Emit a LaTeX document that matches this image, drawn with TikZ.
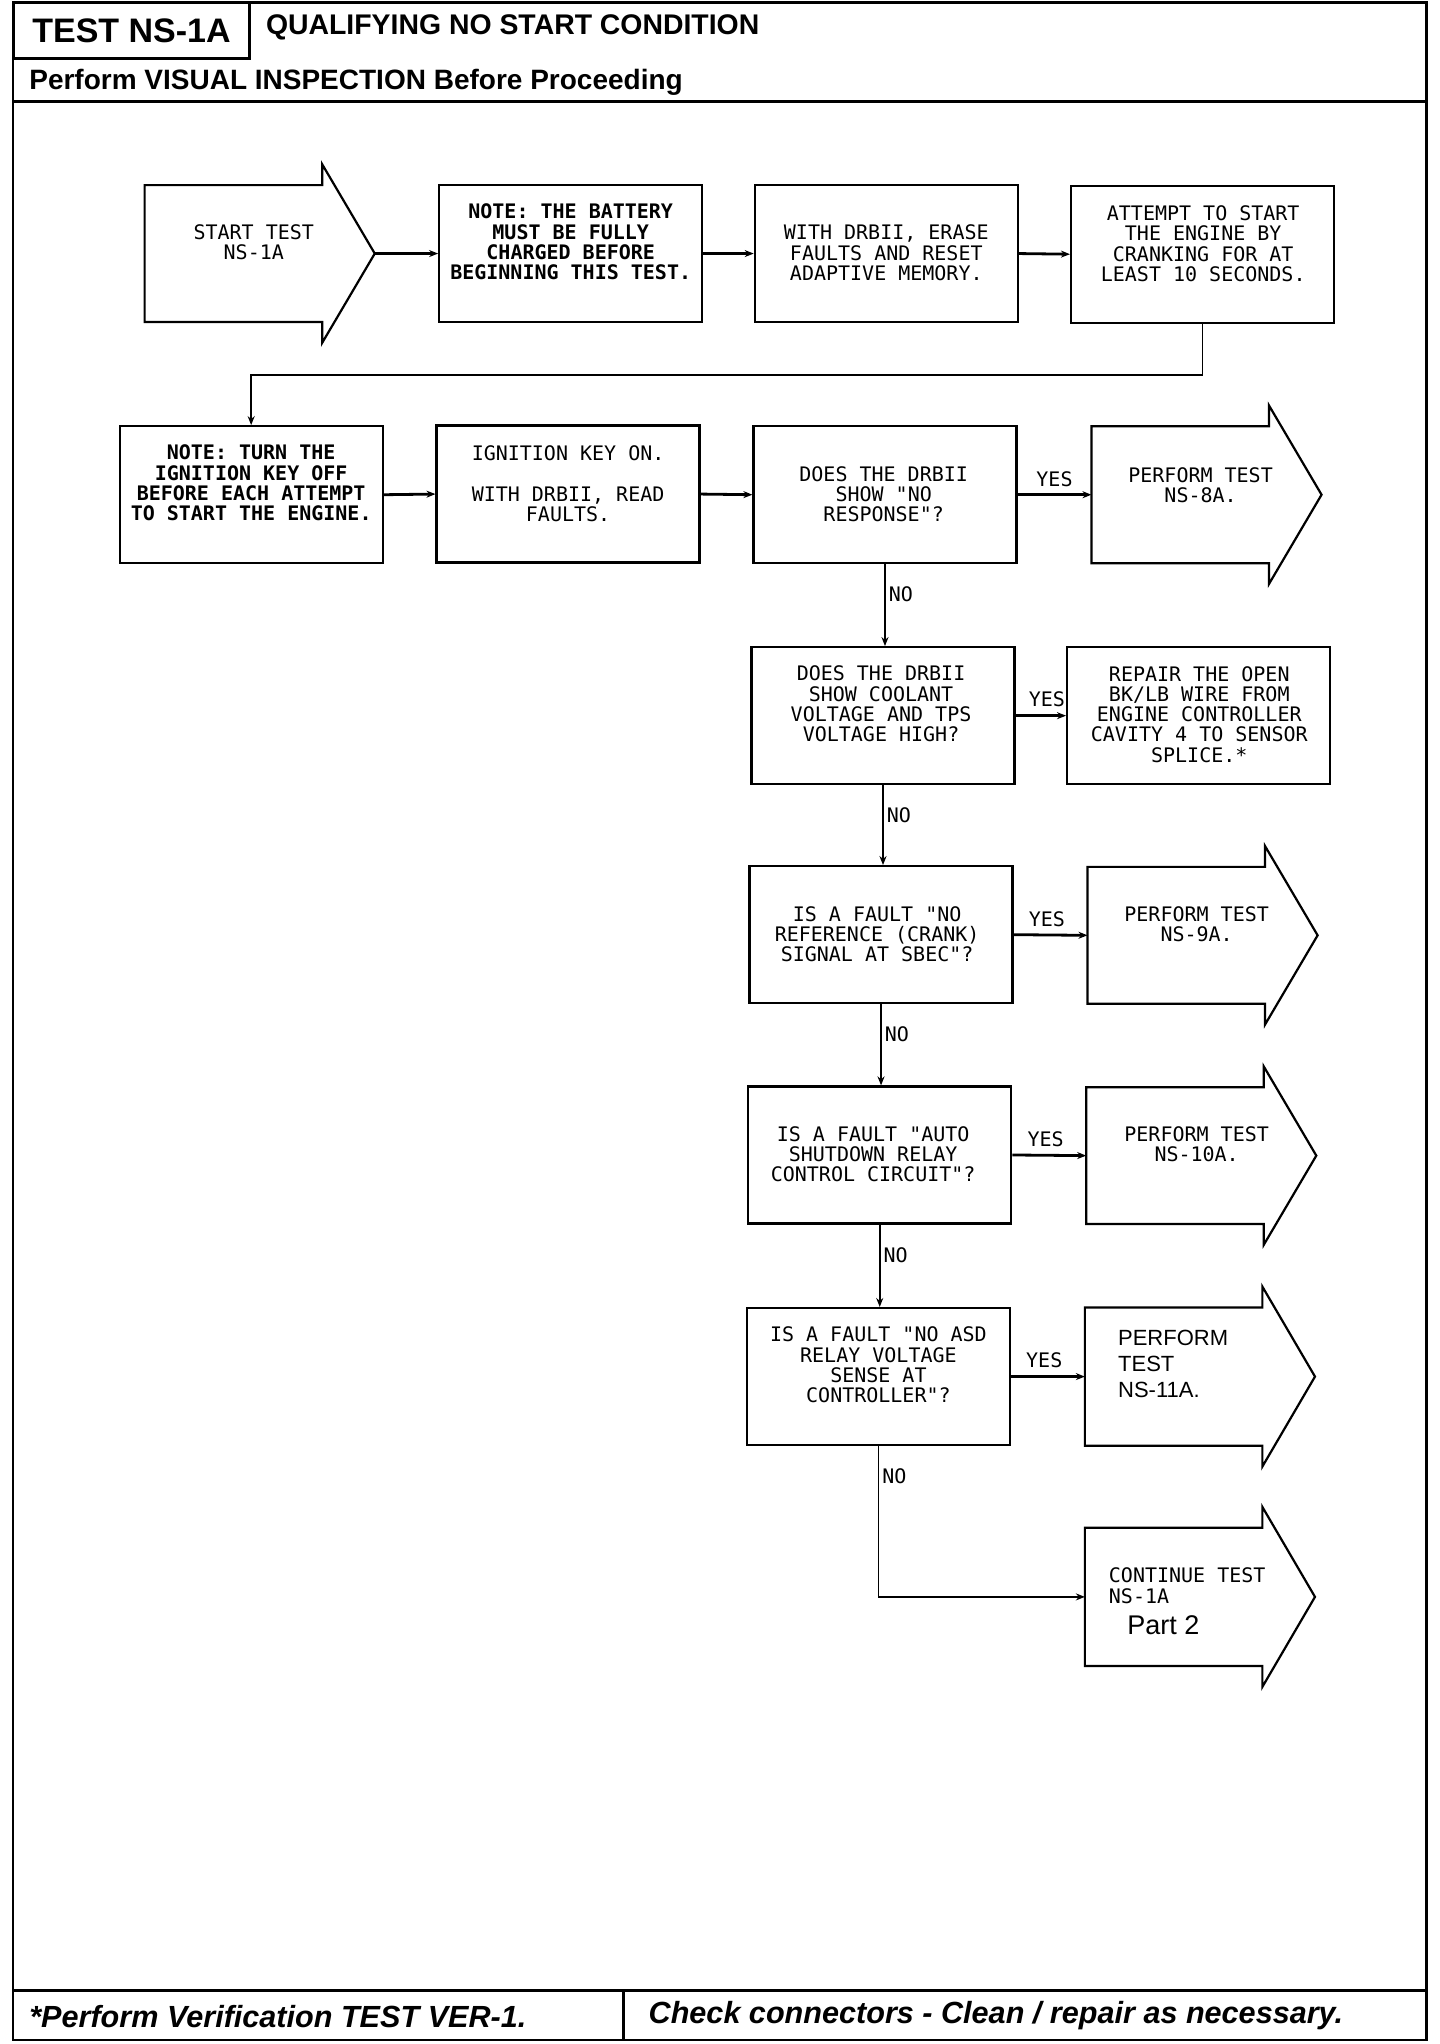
\documentclass[tikz,border=0pt]{standalone}
\usepackage{fontspec}
\setmainfont{Liberation Sans}
\newfontfamily\plotfont{DejaVu Sans Mono}
\usetikzlibrary{arrows.meta}
\newcommand{\ArrowBox}[6]{%
  \draw[shapeline] (#2,#3) -- (#4,#3) -- (#4,#3-16) -- (#6,{(#3+#5)/2}) -- (#4,#5+16) -- (#4,#5) -- (#2,#5) -- cycle;
  \coordinate (#1) at (#2,{(#3+#5)/2});
  \coordinate (#1tip) at (#6,{(#3+#5)/2});}
\begin{document}
\begin{tikzpicture}[x=0.6575pt, y=-0.6518pt,
  box/.style={draw, line width=1.1pt, minimum width=131.5pt, minimum height=68.5pt, inner sep=0pt},
  shapeline/.style={line width=1.1pt, line join=miter},
  frameline/.style={line width=1.3pt},
  conn/.style={line width=0.9pt, -{Stealth[length=4.5pt,width=3.5pt]}},
  hconn/.style={line width=1.4pt, -{Stealth[length=4.5pt,width=3.5pt]}},
  mono/.style={font=\plotfont\fontsize{10}{10.1}\selectfont, align=center, inner sep=0pt},
  monob/.style={font=\plotfont\bfseries\fontsize{10}{10.1}\selectfont, align=center, inner sep=0pt},
  lab/.style={font=\plotfont\fontsize{10}{10.1}\selectfont, inner sep=1.5pt},
  head/.style={font=\bfseries\fontsize{14.2}{16}\selectfont, inner sep=0pt, anchor=west},
  foot/.style={font=\bfseries\itshape\fontsize{15.3}{17}\selectfont, inner sep=0pt, anchor=west},
  sans/.style={font=\fontsize{11}{13}\selectfont, align=left, inner sep=0pt, anchor=west}
]
\useasboundingbox (0,0) rectangle (1095,1568);
% frame
\draw[frameline] (10,2) rectangle (1085,1565);
\draw[frameline] (10,78) -- (1085,78);
\draw[frameline] (10,1527) -- (1085,1527);
\draw[frameline] (474,1527) -- (474,1565);
\node[draw, line width=1.3pt, minimum width=118.3pt, minimum height=28pt, inner sep=0pt,
      font=\bfseries\fontsize{17}{19}\selectfont] (tbox) at (100,23.5) {TEST NS-1A};
\node[head] (title) at (202,21) {QUALIFYING NO START CONDITION};
\node[head, font=\bfseries\fontsize{14}{16}\selectfont] (vis) at (22,63) {Perform VISUAL INSPECTION Before Proceeding};
\node[foot] (f1) at (22,1547) {*Perform Verification TEST VER-1.};
\node[foot] (f2) at (493,1546) {Check connectors - Clean / repair as necessary.};

% row 1
\ArrowBox{a1}{110}{142}{245}{247}{285}
\node[mono] (t1) at (193,186) {START TEST\\NS-1A};
\node[box] (b2) at (434,194.5) {};
\node[monob] (t2) at (434,185.5) {NOTE: THE BATTERY\\MUST BE FULLY\\CHARGED BEFORE\\BEGINNING THIS TEST.};
\node[box] (b3) at (674,194.5) {};
\node[mono] (t3) at (674,194) {WITH DRBII, ERASE\\FAULTS AND RESET\\ADAPTIVE MEMORY.};
\node[box] (b4) at (914.5,195) {};
\node[mono] (t4) at (915,187) {ATTEMPT TO START\\THE ENGINE BY\\CRANKING FOR AT\\LEAST 10 SECONDS.};

% row 2
\node[box] (b5) at (191,379.5) {};
\node[monob] (t5) at (191,370.5) {NOTE: TURN THE\\IGNITION KEY OFF\\BEFORE EACH ATTEMPT\\TO START THE ENGINE.};
\node[box] (b6) at (432,379) {};
\node[mono] (t6) at (432,371) {IGNITION KEY ON.\\[10.1pt]WITH DRBII, READ\\FAULTS.};
\node[box] (b7) at (673,379.5) {};
\node[mono] (t7) at (672,379) {DOES THE DRBII\\SHOW "NO\\RESPONSE"?};
\ArrowBox{a8}{830}{327}{965}{432}{1005}
\node[mono] (t8) at (913,372) {PERFORM TEST\\NS-8A.};

% row 3
\node[box] (b8) at (671.5,549) {};
\node[mono] (t8b) at (670,540) {DOES THE DRBII\\SHOW COOLANT\\VOLTAGE AND TPS\\VOLTAGE HIGH?};
\node[box] (b9) at (911.5,549) {};
\node[mono] (t9) at (912,548) {REPAIR THE OPEN\\BK/LB WIRE FROM\\ENGINE CONTROLLER\\CAVITY 4 TO SENSOR\\SPLICE.*};

% row 4
\node[box] (b10) at (670,717) {};
\node[mono] (t10) at (667,716.5) {IS A FAULT "NO\\REFERENCE (CRANK)\\SIGNAL AT SBEC"?};
\ArrowBox{a11}{827}{665}{962}{770}{1002}
\node[mono] (t11) at (910,709) {PERFORM TEST\\NS-9A.};

% row 5
\node[box] (b12) at (669,886) {};
\node[mono] (t12) at (664,885.5) {IS A FAULT "AUTO\\SHUTDOWN RELAY\\CONTROL CIRCUIT"?};
\ArrowBox{a13}{826}{834}{961}{939}{1001}
\node[mono] (t13) at (910,878) {PERFORM TEST\\NS-10A.};

% row 6
\node[box] (b14) at (668,1056) {};
\node[mono] (t14) at (668,1047) {IS A FAULT "NO ASD\\RELAY VOLTAGE\\SENSE AT\\CONTROLLER"?};
\ArrowBox{a15}{825}{1003}{960}{1109}{1000}
\node[sans] (t15) at (850,1046) {PERFORM\\TEST\\NS-11A.};

% row 7
\ArrowBox{a16}{825}{1172}{960}{1278}{1000}
\node[mono, align=left, anchor=west] (t16) at (843,1216.5) {CONTINUE TEST\\ NS-1A};
\node[sans, font=\fontsize{13.5}{15}\selectfont] (t16b) at (857,1247) {Part 2};

% connectors
\draw[hconn] (a1tip) -- (b2.west);
\draw[hconn] (b2.east) -- (b3.west);
\draw[hconn] (b3.east) -- (b4.west);
\draw[conn] (b4.south) -- ++(0,39) -| (b5.north);
\draw[hconn] (b5.east) -- (b6.west);
\draw[hconn] (b6.east) -- (b7.west);
\draw[hconn] (b7.east) -- node[lab, above=2pt] {YES} (a8);
\draw[conn] (b7.south) -- node[lab, pos=0.37, right] {NO} (b7.south |- b8.north);
\draw[hconn] (b8.east) -- node[lab, above=2pt, pos=0.62] {YES} (b9.west);
\draw[conn] (b8.south) -- node[lab, pos=0.37, right] {NO} (b8.south |- b10.north);
\draw[hconn] (b10.east) -- node[lab, above=2pt, pos=0.45] {YES} (a11);
\draw[conn] (b10.south) -- node[lab, pos=0.37, right] {NO} (b10.south |- b12.north);
\draw[hconn] (b12.east) -- node[lab, above=2pt, pos=0.45] {YES} (a13);
\draw[conn] (b12.south) -- node[lab, pos=0.37, right] {NO} (b12.south |- b14.north);
\draw[hconn] (b14.east) -- node[lab, above=2pt, pos=0.45] {YES} (a15);
\draw[conn] (b14.south) |- node[lab, pos=0.1, right] {NO} (a16);
\end{tikzpicture}
\end{document}
